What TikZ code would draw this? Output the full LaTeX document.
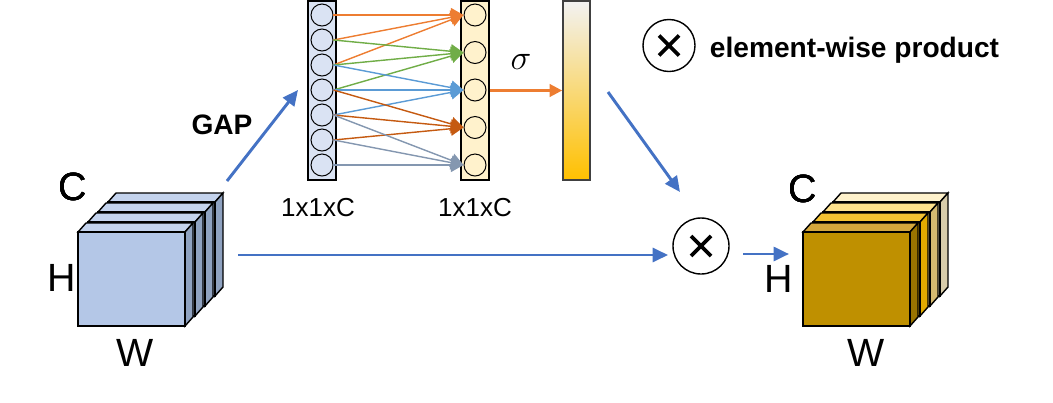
\documentclass[tikz,border=0pt]{standalone}
\usepackage{fontspec}
\setmainfont{Liberation Sans}
\usetikzlibrary{arrows.meta, positioning, calc}

\definecolor{arrblue}{HTML}{4472C4}
\definecolor{c1}{HTML}{ED7D31}
\definecolor{c2}{HTML}{70AD47}
\definecolor{c3}{HTML}{5B9BD5}
\definecolor{c4}{HTML}{C55A11}
\definecolor{c5}{HTML}{8497B0}
\definecolor{bfront}{HTML}{B4C7E7}
\definecolor{btop}{HTML}{C4D3ED}
\definecolor{bside}{HTML}{8FA2C0}
\definecolor{gfront1}{HTML}{BF9000}
\definecolor{gtop1}{HTML}{D4A73C}
\definecolor{gside1}{HTML}{9A7400}
\definecolor{gfront2}{HTML}{FFC000}
\definecolor{gtop2}{HTML}{F4C232}
\definecolor{gside2}{HTML}{E2AA00}
\definecolor{gfront3}{HTML}{FFE699}
\definecolor{gtop3}{HTML}{FFE28C}
\definecolor{gside3}{HTML}{D6BA70}
\definecolor{gfront4}{HTML}{FFF2CC}
\definecolor{gtop4}{HTML}{FFF2CC}
\definecolor{gside4}{HTML}{D8CCAA}
\definecolor{inlay}{HTML}{DAE3F3}
\definecolor{outlay}{HTML}{FFF2CC}
\definecolor{gateedge}{HTML}{404040}
\definecolor{gatetop}{HTML}{F2F2F2}
\definecolor{gatebot}{HTML}{FFC000}

% one slab of a feature map: x, y (lower left of front), front, top, side
\newcommand{\featslab}[5]{%
  \filldraw[fill=#4, line width=1pt] (#1,#2-94) -- ++(8,-9) -- ++(107,0) -- ++(-8,9) -- cycle;
  \filldraw[fill=#5, line width=1pt] (#1+107,#2) -- ++(8,-9) -- ++(0,-94) -- ++(-8,9) -- cycle;
  \filldraw[fill=#3, line width=1pt] (#1,#2) rectangle ++(107,-94);
}

\begin{document}
\begin{tikzpicture}[x=0.025cm, y=-0.025cm,
    lay/.style={draw, line width=1pt, inner sep=0pt, minimum width=0.7cm, minimum height=4.475cm},
    neu/.style={circle, draw, line width=0.7pt, inner sep=0pt, minimum size=0.55cm},
    barr/.style={-{Triangle[length=11pt,width=10pt]}, line width=2.1pt, draw=arrblue, fill=arrblue},
    narr/.style={-{Triangle[length=9pt,width=10pt]}, line width=1pt},
    prod/.style={circle, draw, line width=1pt, minimum size=#1, path picture={
        \draw[line width=2.6pt] ($(path picture bounding box.center)+(-10,-10)$) -- ++(20,20)
          ($(path picture bounding box.center)+(-10,10)$) -- ++(20,-20);}},
    big/.style={font=\fontsize{28}{32}\selectfont},
    dim/.style={font=\fontsize{18.5}{22}\selectfont}]
  \useasboundingbox (0,0) rectangle (1053,402);

  % input feature map
  \foreach \i in {3,2,1,0}
    \featslab{78+10*\i}{326-10*\i}{bfront}{btop}{bside}
  \node[big] (cin) at (73,187) {C};
  \node[big] (hin) at (62,278) {H};
  \node[big] (win) at (135,353) {W};

  % output feature map
  \foreach \i in {4,3,2,1}
    \featslab{793+10*\i}{336-10*\i}{gfront\i}{gtop\i}{gside\i}
  \node[big] (cout) at (803,189) {C};
  \node[big] (hout) at (779,279) {H};
  \node[big] (wout) at (866,353) {W};

  % the two layers
  \node[lay, fill=inlay] (inl) at (322,90.5) {};
  \node[lay, fill=outlay] (outl) at (475,90.5) {};
  \foreach \i in {1,...,7}
    \node[neu] (l\i) at (322,{15+25*(\i-1)}) {};
  \foreach \j in {1,...,5}
    \node[neu] (r\j) at (475,{15+37.5*(\j-1)}) {};
  \foreach \j/\c in {1/c1,2/c2,3/c3,4/c4,5/c5}
    \foreach \k in {0,1,2} {
      \pgfmathtruncatemacro\src{\j+\k}
      \draw[narr, draw=\c, fill=\c] (l\src.east) -- (r\j.west);
    }
  \node[dim] (din) at (318,208) {1x1xC};
  \node[dim] (dout) at (475,208) {1x1xC};

  % gate
  \node[draw=gateedge, line width=1.2pt, inner sep=0pt, minimum width=0.675cm, minimum height=4.475cm,
    top color=gatetop, bottom color=gatebot] (gate) at (576.5,90.5) {};
  \draw[-{Triangle[length=9pt,width=9pt]}, line width=1.8pt, draw=c1, fill=c1] (outl.east) -- (gate.west);
  \node[font=\fontsize{27}{30}\selectfont] (sig) at (521,62) {$\sigma$};

  % product
  \node[prod=1.4cm] (mul) at (701,246) {};
  \node[prod=1.3cm] (key) at (669,45.5) {};
  \node[anchor=base west, font=\bfseries\fontsize{20}{24}\selectfont] (keytxt) at (705,57) {element-wise product};

  \coordinate (gapin) at (227,181);
  \coordinate (gapout) at (298,90);
  \coordinate (gout) at (608,92);
  \coordinate (gin) at (680,192);
  \coordinate (xin) at (238,255);
  \coordinate (yout) at (743,254);
  \coordinate (yin) at (789,254);
  \draw[barr] (gapin) -- (gapout);
  \node[font=\bfseries\fontsize{20}{24}\selectfont] (gap) at (222,125) {GAP};
  \draw[barr] (gout) -- (gin);
  \draw[barr, shorten >=3pt] (xin) -- (xin -| mul.west);
  \draw[barr] (yout) -- (yin);
\end{tikzpicture}
\end{document}
